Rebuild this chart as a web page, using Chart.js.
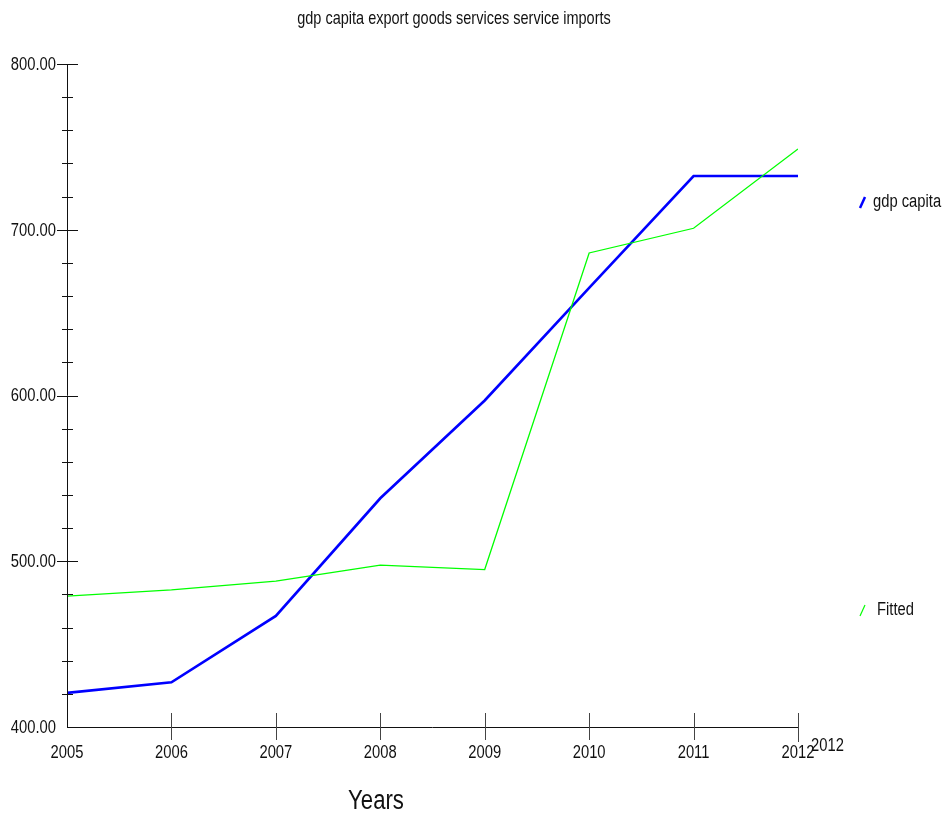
<!DOCTYPE html>
<html>
<head>
<meta charset="utf-8">
<script src="https://cdn.jsdelivr.net/npm/chart.js@4.4.1/dist/chart.umd.min.js"></script>
<style>
  html, body { margin: 0; padding: 0; background: #fff; }
  #wrap { width: 943px; height: 819px; }
</style>
</head>
<body>
<div id="wrap"><canvas id="grafico" width="943" height="819"></canvas></div>
<script>
// dati
const anni = [2005, 2006, 2007, 2008, 2009, 2010, 2011, 2012];
const gdpCapita = [420.6, 427.0, 467.0, 538.0, 597.0, 665.0, 732.4, 732.4];
const fitted = [479.0, 482.7, 488.0, 497.7, 495.0, 686.0, 700.9, 748.7];
const yMajor = [400, 500, 600, 700, 800];
const titolo = "gdp capita export goods services service imports";

const FONT = "'Liberation Sans', Arial, sans-serif";
const STRETTO = 0.82; // il font originale e' condensato

// scrive un testo compresso in orizzontale
function scriviTesto(ctx, testo, x, y, size, align) {
  ctx.save();
  ctx.font = size + "px " + FONT;
  ctx.textAlign = align;
  ctx.textBaseline = "middle";
  ctx.translate(x, y);
  ctx.scale(STRETTO, 1);
  ctx.fillText(testo, 0, 0);
  ctx.restore();
}

// plugin che disegna assi, tacche, etichette, titolo e legenda
const assiPlugin = {
  id: "assi",
  afterDraw(chart) {
    const ctx = chart.ctx;
    const xs = chart.scales.x;
    const ys = chart.scales.y;
    const left = xs.getPixelForValue(2005);
    const right = xs.getPixelForValue(2012);
    const top = ys.getPixelForValue(800);
    const bottom = ys.getPixelForValue(400);
    ctx.save();
    ctx.strokeStyle = "#111";
    ctx.lineWidth = 1;
    ctx.beginPath();
    ctx.moveTo(Math.round(left) + 0.5, top);
    ctx.lineTo(Math.round(left) + 0.5, bottom);
    ctx.moveTo(left, Math.round(bottom) + 0.5);
    ctx.lineTo(right, Math.round(bottom) + 0.5);
    // tacche minori ogni 20
    for (let v = 420; v < 800; v += 20) {
      if (v % 100 === 0) continue;
      const y = Math.round(ys.getPixelForValue(v)) + 0.5;
      ctx.moveTo(left - 5, y);
      ctx.lineTo(left + 6, y);
    }
    yMajor.forEach((v) => {
      if (v === 400) return;
      const y = Math.round(ys.getPixelForValue(v)) + 0.5;
      ctx.moveTo(left - 10, y);
      ctx.lineTo(left + 11, y);
    });
    ctx.stroke();
    // tacche asse x
    ctx.strokeStyle = "#444";
    ctx.beginPath();
    anni.forEach((a) => {
      if (a === 2005) return;
      const x = Math.round(xs.getPixelForValue(a)) + 0.5;
      ctx.moveTo(x, bottom - 14);
      ctx.lineTo(x, a === 2012 ? bottom + 15 : bottom + 13);
    });
    ctx.stroke();

    ctx.fillStyle = "#111";
    // etichette degli assi
    yMajor.forEach((v) => {
      scriviTesto(ctx, v.toFixed(2), 56, ys.getPixelForValue(v) + 1, 18, "right");
    });
    anni.forEach((a) => {
      scriviTesto(ctx, String(a), xs.getPixelForValue(a), 753, 18, "center");
    });
    scriviTesto(ctx, "2012", 811, 746, 18, "left");
    scriviTesto(ctx, titolo, 454, 19, 17.7, "center");
    scriviTesto(ctx, "Years", 376, 802, 27, "center");

    // legenda
    const legenda = [
      { testo: "gdp capita", colore: "#0000ff", w: 2.5, y: 202, tx: 873 },
      { testo: "Fitted", colore: "#00ff00", w: 1.2, y: 610, tx: 877 },
    ];
    legenda.forEach((l) => {
      ctx.strokeStyle = l.colore;
      ctx.lineWidth = l.w;
      ctx.beginPath();
      ctx.moveTo(860, l.y + 6);
      ctx.lineTo(865, l.y - 5);
      ctx.stroke();
      ctx.fillStyle = "#111";
      scriviTesto(ctx, l.testo, l.tx, l.y, 18, "left");
    });
    ctx.restore();
  },
};

new Chart(document.getElementById("grafico").getContext("2d"), {
  type: "line",
  data: {
    datasets: [
      {
        label: "Fitted",
        data: anni.map((a, i) => ({ x: a, y: fitted[i] })),
        borderColor: "#00ff00",
        borderWidth: 1.3,
        pointRadius: 0,
        tension: 0,
      },
      {
        label: "gdp capita",
        data: anni.map((a, i) => ({ x: a, y: gdpCapita[i] })),
        borderColor: "#0000ff",
        borderWidth: 2.6,
        pointRadius: 0,
        tension: 0,
      },
    ],
  },
  options: {
    responsive: false,
    animation: false,
    layout: { padding: { left: 0, right: 145, top: 64, bottom: 0 } },
    plugins: { legend: { display: false }, title: { display: false }, tooltip: { enabled: false } },
    scales: {
      x: {
        type: "linear",
        min: 2005,
        max: 2012,
        border: { display: false },
        grid: { display: false, drawTicks: false },
        ticks: { display: false },
        afterFit(scale) { scale.height = 92; },
      },
      y: {
        min: 400,
        max: 800,
        border: { display: false },
        grid: { display: false, drawTicks: false },
        ticks: { display: false },
        afterFit(scale) { scale.width = 67; },
      },
    },
  },
  plugins: [assiPlugin],
});
</script>
</body>
</html>
